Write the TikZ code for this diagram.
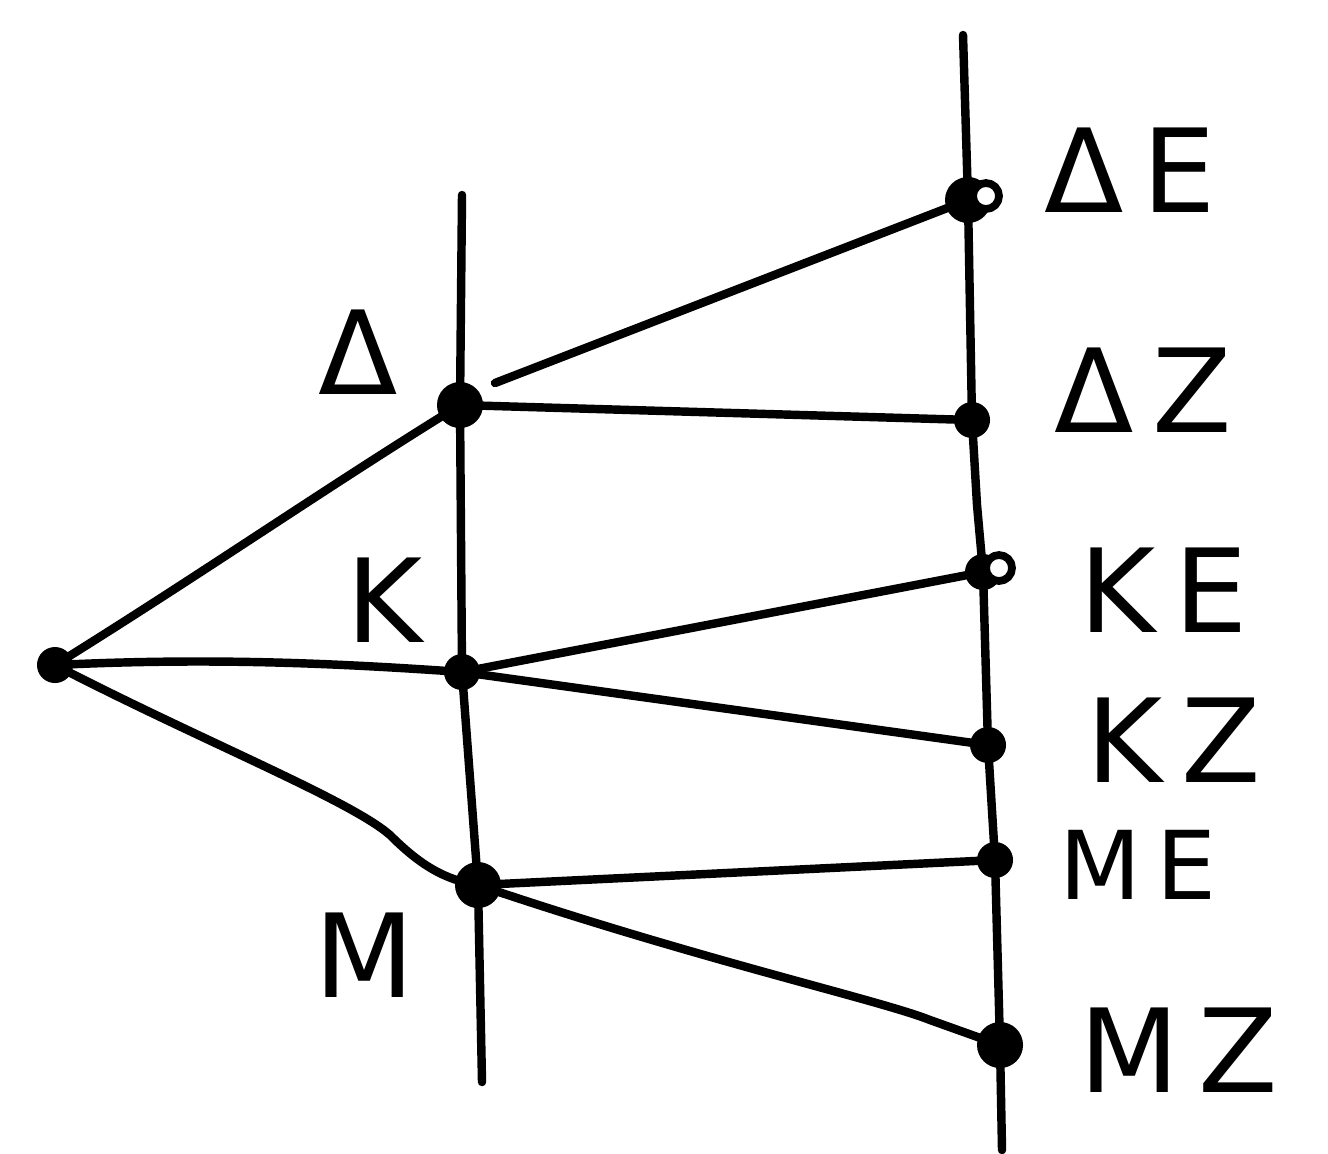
\documentclass[tikz,border=0pt]{standalone}
\usepackage{fontspec}
\setmainfont{DejaVu Sans}
\begin{document}
\begin{tikzpicture}[x=0.01cm,y=-0.01cm,
  line width=2.4pt, line cap=round, line join=round,
  dotbig/.style={circle, fill=black, inner sep=0pt, minimum size=0.46cm},
  dotmid/.style={circle, fill=black, inner sep=0pt, minimum size=0.36cm},
  ring/.style={circle, draw=black, fill=white, line width=2.2pt, inner sep=0pt, minimum size=0.26cm},
  lab/.style={font=\fontsize{33}{38}\selectfont, inner sep=0pt}]
\useasboundingbox (0,0) rectangle (1328,1153);
% coordinates of the two vertical lines
\coordinate (Ltop) at (462,195);
\coordinate (Lbot) at (482,1082);
\coordinate (Rtop) at (963,35);
\coordinate (Rbot) at (1002,1150);
% nodes
\node[dotmid] (root) at (55,665) {};
\node[dotbig] (D) at (460,405) {};
\node[dotmid] (K) at (462,672) {};
\node[dotbig] (M) at (478,885) {};
\node[dotbig] (DE) at (968,200) {};
\node[dotmid] (DZ) at (972,420) {};
\node[dotmid] (KE) at (983,572) {};
\node[dotmid] (KZ) at (988,745) {};
\node[dotmid] (ME) at (995,860) {};
\node[dotbig] (MZ) at (1000,1045) {};
\node[ring] (DEr) at (986,196) {};
\node[ring] (KEr) at (999,568) {};
\coordinate (Dstart) at (495,383);
% vertical lines
\draw (Ltop) -- (D.center) -- (K.center) -- (M.center) -- (Lbot);
\draw (Rtop) -- (DE.center) -- (DZ.center) -- (977,505) -- (KE.center) -- (KZ.center) -- (ME.center) -- (MZ.center) -- (Rbot);
% branches from root
\draw (root.center) .. controls (200,575) and (330,485) .. (D.center);
\draw (root.center) .. controls (200,658) and (320,662) .. (K.center);
\draw (root.center) .. controls (200,740) and (350,800) .. (390,835) .. controls (420,865) and (445,880) .. (M.center);
% branches to right
\draw (Dstart) -- (DE.center);
\draw (D.center) -- (DZ.center);
\draw (K.center) -- (KE.center);
\draw (K.center) -- (KZ.center);
\draw (M.center) -- (ME.center);
\draw (M.center) .. controls (700,960) and (880,1000) .. (930,1020) -- (MZ.center);
% labels
\node[lab] (tD) at (358,352) {Δ};
\node[lab] (tK) at (385,600) {Κ};
\node[lab] (tM) at (365,955) {Μ};
\node[lab,anchor=west] (tDE) at (1040,170) {Δ\,Ε};
\node[lab,anchor=west] (tDZ) at (1050,390) {Δ\,Ζ};
\node[lab,anchor=west] (tKE) at (1075,590) {Κ\,Ε};
\node[lab,anchor=west] (tKZ) at (1082,740) {Κ\,Ζ};
\node[lab,anchor=west,font=\fontsize{27}{32}\selectfont] (tME) at (1055,865) {Μ\,Ε};
\node[lab,anchor=west] (tMZ) at (1075,1050) {Μ\,Ζ};
\end{tikzpicture}
\end{document}
